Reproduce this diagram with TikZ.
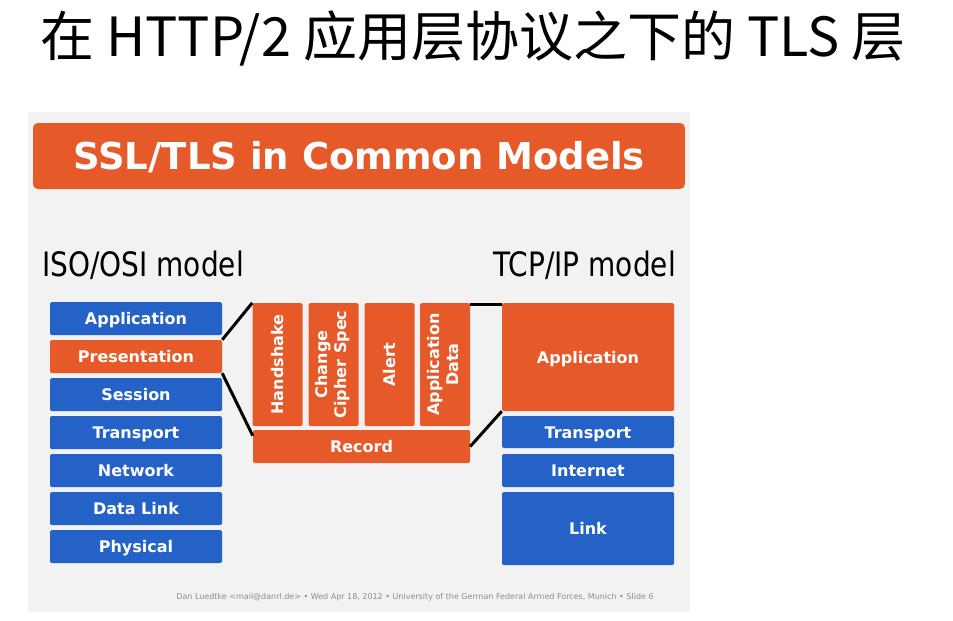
\documentclass[tikz,border=0pt]{standalone}
\usepackage{fontspec}
\usepackage{graphicx}
\setmainfont{DejaVu Sans}
\newfontfamily\cjkfont{Noto Sans CJK SC}
\definecolor{tlsorange}{HTML}{E65A2A}
\definecolor{osiblue}{HTML}{2462C8}
\definecolor{slidegray}{HTML}{F2F2F2}

\begin{document}
\begin{tikzpicture}[x=1pt, y=-1pt,
  layer/.style={rectangle, rounded corners=1.5pt, inner sep=0pt, text=white,
    font=\bfseries\fontsize{16}{19}\selectfont, minimum width=172pt, minimum height=33pt},
  flat/.style={layer, text height=12pt, text depth=0pt},
  osi/.style={flat, fill=osiblue},
  tls/.style={flat, fill=tlsorange},
  proto/.style={layer, fill=tlsorange, minimum width=50pt, minimum height=123pt},
  model/.style={inner sep=0pt, font=\fontsize{28}{28}\selectfont},
  link/.style={line width=3pt, black}]
  \useasboundingbox (0,0) rectangle (953,621);
  \fill[slidegray] (28,112) rectangle (690,612);

  \node[anchor=base west, inner sep=0pt, font=\cjkfont\fontsize{54}{54}\selectfont] (cntitle) at (40,56) {在 HTTP/2 应用层协议之下的 TLS 层};
  \node[fill=tlsorange, rounded corners=5pt, minimum width=652pt, minimum height=66pt, text=white,
    text height=27pt, text depth=0pt, font=\bfseries\fontsize{37}{37}\selectfont] (slidetitle) at (359,156) {SSL/TLS in Common Models};

  \node[model, anchor=base west] (osilabel) at (42,276) {\scalebox{1}[1.2]{ISO/OSI model}};
  \node[model, anchor=base east] (tcplabel) at (676,276) {\scalebox{1}[1.2]{TCP/IP model}};

  \foreach \name/\txt/\kind [count=\i from 0] in {osiapp/Application/osi, osipres/Presentation/tls,
      osisess/Session/osi, ositrans/Transport/osi, osinet/Network/osi, osidata/Data Link/osi, osiphys/Physical/osi}
    \node[\kind] (\name) at (136,{318.5+38*\i}) {\txt};

  \node[proto] (handshake) at (277.5,364.5) {\rotatebox{90}{Handshake}};
  \node[proto] (ccs) at (333.5,364.5) {\rotatebox{90}{\begin{tabular}{@{}c@{}}Change\\Cipher Spec\end{tabular}}};
  \node[proto] (alert) at (389.5,364.5) {\rotatebox{90}{Alert}};
  \node[proto] (appdata) at (445,364.5) {\rotatebox{90}{\begin{tabular}{@{}c@{}}Application\\Data\end{tabular}}};
  \node[tls, minimum width=217pt] (record) at (361.5,446.5) {Record};

  \node[tls, minimum height=108pt] (tcpapp) at (588,357) {Application};
  \node[osi, minimum height=32pt] (tcptrans) at (588,432) {Transport};
  \node[osi] (tcpinet) at (588,470.5) {Internet};
  \node[osi, minimum height=73pt] (tcplink) at (588,528.5) {Link};

  \draw[link] (osipres.north east) -- (handshake.north west);
  \draw[link] (osipres.south east) -- ([yshift=-6pt]record.north west);
  \draw[link] ([yshift=-2pt]appdata.north east) -- ([yshift=-2pt]tcpapp.north west);
  \draw[link] (tcpapp.south west) -- (record.east);

  \node[text=black!45, font=\fontsize{8}{9}\selectfont] (footer) at (415,597)
    {Dan Luedtke <mail@danrl.de> • Wed Apr 18, 2012 • University of the German Federal Armed Forces, Munich • Slide 6};
\end{tikzpicture}
\end{document}
